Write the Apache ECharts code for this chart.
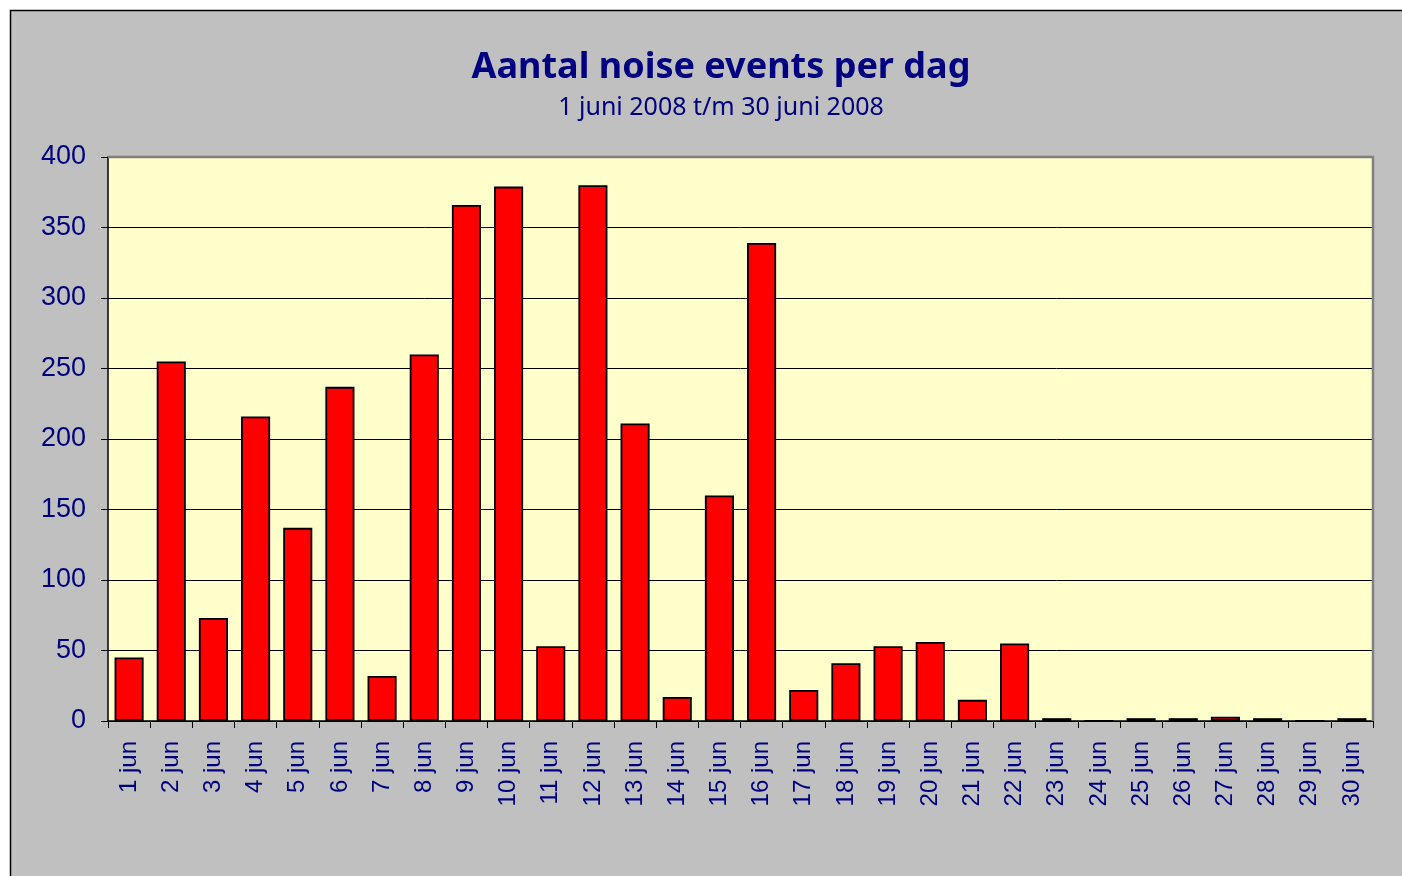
<!DOCTYPE html>
<html>
<head>
<meta charset="utf-8">
<script src="https://cdn.jsdelivr.net/npm/echarts@6/dist/echarts.min.js"></script>
<style>
html,body{margin:0;padding:0;background:#fff;}
#chart{position:absolute;left:0;top:0;width:1402px;height:876px;}
</style>
</head>
<body>
<div id="chart"></div>
<script>
const titleText = "Aantal noise events per dag";
const subtitleText = "1 juni 2008 t/m 30 juni 2008";
const categories = ["1 jun","2 jun","3 jun","4 jun","5 jun","6 jun","7 jun","8 jun","9 jun","10 jun",
  "11 jun","12 jun","13 jun","14 jun","15 jun","16 jun","17 jun","18 jun","19 jun","20 jun",
  "21 jun","22 jun","23 jun","24 jun","25 jun","26 jun","27 jun","28 jun","29 jun","30 jun"];
const values = [45,255,73,216,137,237,32,260,366,379,
  53,380,211,17,160,339,22,41,53,56,
  15,55,2,0,2,2,3,2,0,2];
const yMin = 0, yMax = 400, yInterval = 50;

const chart = echarts.init(document.getElementById('chart'), null, {renderer:'canvas'});
const navy = '#000080';
chart.setOption({
  backgroundColor: '#ffffff',
  animation: false,
  graphic: [
    {type:'rect', z:-10, shape:{x:10.5,y:10.5,width:1420,height:900},
     style:{fill:'#C0C0C0', stroke:'#000', lineWidth:1.5}},
    {type:'rect', z:-5, shape:{x:108,y:157,width:1265,height:564},
     style:{fill:'#FFFFCC'}},
    {type:'polyline', z:50, shape:{points:[[108,157],[1373,157],[1373,721]]},
     style:{fill:null, stroke:'#808080', lineWidth:2.5}}
  ],
  title: {
    text: titleText,
    subtext: subtitleText,
    left: 716, top: 45, textAlign: 'center',
    itemGap: 9,
    textStyle: {fontFamily:'Noto Sans', fontWeight:'bold', fontSize:36, color:navy},
    subtextStyle: {fontFamily:'Noto Sans', fontSize:25, color:navy}
  },
  grid: {left:108, top:157, right:29, bottom:155, containLabel:false},
  xAxis: {
    type:'category',
    data: categories,
    boundaryGap: true,
    axisLine: {lineStyle:{color:'#000', width:1.5}},
    axisTick: {show:true, length:7, lineStyle:{color:'#000'}},
    axisLabel: {rotate:90, margin:20, fontFamily:'Liberation Sans', fontSize:24, color:navy, interval:0},
    splitLine: {show:false}
  },
  yAxis: {
    type:'value', min:yMin, max:yMax, interval:yInterval,
    axisLine: {show:true, lineStyle:{color:'#000', width:1.5}},
    axisTick: {show:true, length:7, lineStyle:{color:'#000'}},
    axisLabel: {margin:22, fontFamily:'Liberation Sans', fontSize:27, color:navy},
    splitLine: {show:true, lineStyle:{color:'#000', width:1}}
  },
  series: [{
    type:'bar',
    data: values,
    barCategoryGap: '31%',
    itemStyle: {color:'#FF0000', borderColor:'#000', borderWidth:1.8}
  }]
});
</script>
</body>
</html>
